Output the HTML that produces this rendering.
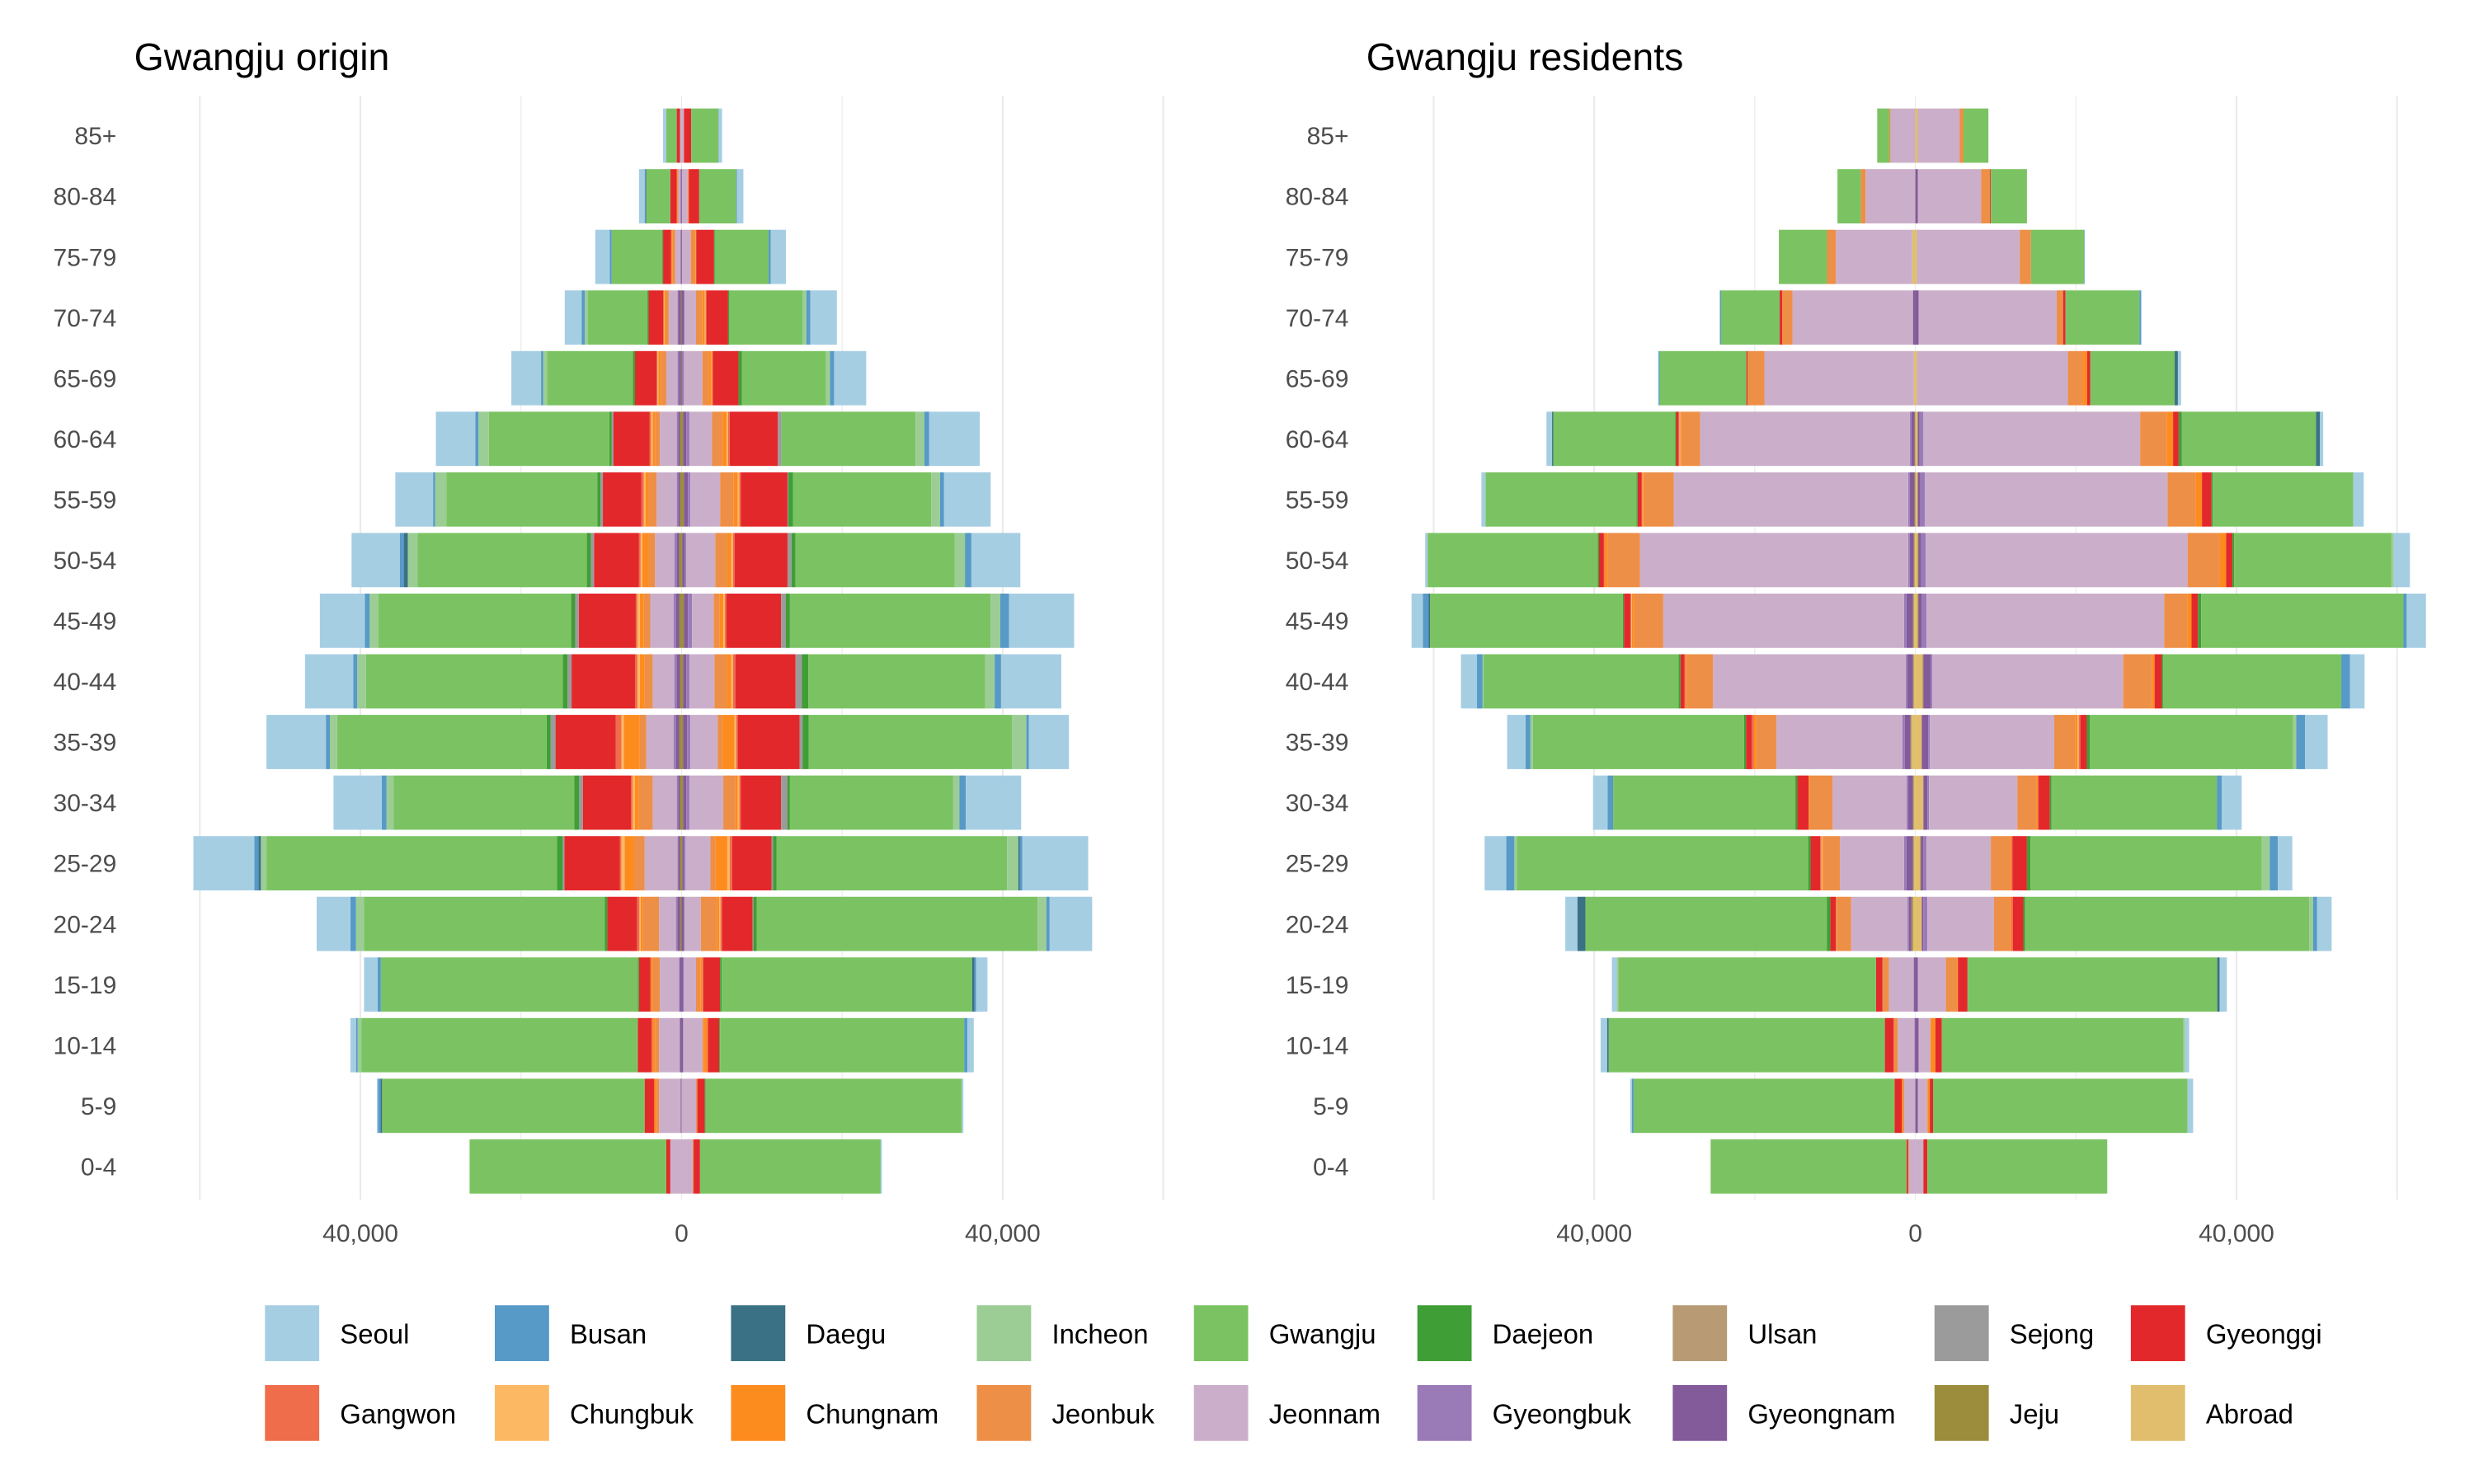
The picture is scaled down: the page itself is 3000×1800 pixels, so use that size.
<!DOCTYPE html>
<html><head><meta charset="utf-8"><style>
html,body{margin:0;padding:0;background:#fff;}
svg{display:block;font-family:"Liberation Sans",Arial,sans-serif;}
</style></head><body>
<svg id="chart" width="3000" height="1800" viewBox="0 0 1550 930" xmlns="http://www.w3.org/2000/svg">
<rect x="0" y="0" width="1550" height="930" fill="#fff"/>
<text x="84" y="44" font-size="24" fill="#000">Gwangju origin</text>
<text x="856" y="44" font-size="24" fill="#000">Gwangju residents</text>
<g id="panels"></g>
<g id="legend"></g>
</svg>
<script>
const ages = ["0-4","5-9","10-14","15-19","20-24","25-29","30-34","35-39","40-44","45-49","50-54","55-59","60-64","65-69","70-74","75-79","80-84","85+"];
const regions = ["Seoul","Busan","Daegu","Incheon","Gwangju","Daejeon","Ulsan","Sejong","Gyeonggi","Gangwon","Chungbuk","Chungnam","Jeonbuk","Jeonnam","Gyeongbuk","Gyeongnam","Jeju","Abroad"];
const colors = ["#a6cee3","#5799c7","#3a7185","#9bcd95","#7bc362","#3f9e36","#b89a74","#9b9b9b","#e3282b","#ef6d4b","#fdb863","#fd8c1f","#ee8f47","#cbafca","#9a7bb8","#835a9a","#9b8d3c","#e0be6d"];
const xTickValues = [-40000, 0, 40000];
const xTickLabels = ["40,000","0","40,000"];
const gridValues = [-60000,-40000,-20000,0,20000,40000,60000];

// Values in thousands, age order 0-4 ... 85+
// Gwangju origin, left side
const oL_Seoul=[0,0.15,0.7,1.7,4.2,7.6,6.0,7.4,6.0,5.6,6.0,4.7,4.9,3.7,2.1,1.8,0.7,0.4];
const oL_Busan=[0,0.3,0.2,0.4,0.7,0.5,0.6,0.5,0.5,0.6,0.5,0.25,0.4,0.25,0.4,0.25,0.1,0];
const oL_Daegu=[0,0.2,0,0,0,0.3,0,0,0,0,0.5,0,0,0,0,0,0.1,0];
const oL_Incheon=[0,0,0.5,0,1.0,0.7,0.9,0.9,1.1,1.1,1.2,1.4,1.3,0.5,0.4,0,0,0];
const oL_Gwangju=[24.5,32.7,34.4,32.0,30.0,36.2,22.5,26.1,24.5,24.0,21.1,18.8,15.0,10.7,7.4,6.3,3.0,1.3];
const oL_Daejeon=[0,0,0,0.15,0.3,0.7,0.6,0.5,0.6,0.5,0.5,0.4,0.3,0.25,0.15,0.1,0,0];
const oL_Sejong=[0,0,0,0,0,0.2,0.45,0.6,0.5,0.45,0.4,0.3,0.2,0,0,0,0,0];
const oL_Gyeonggi=[0.5,1.2,1.7,1.4,3.7,6.9,6.0,7.5,7.9,7.1,5.6,4.8,4.5,2.7,1.8,1.0,0.8,0.4];
const oL_Gangwon=[0,0,0.15,0.1,0.3,0.2,0.2,0.7,0.3,0.2,0.2,0.3,0.2,0.1,0.1,0,0,0];
const oL_Chungbuk=[0,0,0,0,0.15,0.4,0.3,0.3,0.3,0.3,0.2,0.2,0.2,0.1,0.1,0,0,0];
const oL_Chungnam=[0,0.3,0.3,0.2,0.3,1.2,0.5,2.0,0.6,0.5,0.8,0.4,0.3,0.3,0.2,0.2,0.1,0];
const oL_Jeonbuk=[0,0.3,0.5,0.9,2.0,1.3,1.7,0.8,1.0,0.8,0.8,1.0,0.6,0.7,0.3,0.3,0.1,0];
const oL_Jeonnam=[1.4,2.7,2.6,2.4,2.1,4.1,3.0,3.4,2.7,2.9,2.4,2.5,2.1,1.4,1.1,0.7,0.3,0.2];
const oL_Gyeongbuk=[0,0,0,0.1,0.2,0.1,0.2,0.3,0.3,0.3,0.3,0.2,0.2,0.2,0.1,0,0,0];
const oL_Gyeongnam=[0,0.1,0.2,0.2,0.3,0.2,0.2,0.4,0.4,0.4,0.3,0.2,0.2,0.2,0.3,0.1,0.1,0];
const oL_Jeju=[0,0,0,0,0.2,0.2,0.2,0.3,0.2,0.3,0.3,0.2,0.2,0.1,0.1,0,0,0];
// Gwangju origin, right side
const oR_Seoul=[0.15,0.2,0.8,1.4,5.3,8.2,6.9,5.0,7.5,8.1,6.1,5.8,6.3,4.0,3.3,1.9,0.8,0.4];
const oR_Busan=[0,0,0.4,0.2,0.4,0.3,0.8,0.3,0.8,1.1,0.8,0.5,0.6,0.5,0.5,0.25,0.1,0.05];
const oR_Daegu=[0,0,0,0.3,0,0.2,0,0,0,0,0,0,0,0,0,0,0,0];
const oR_Incheon=[0,0,0,0,1.1,1.4,0.8,1.8,1.2,1.2,1.3,1.1,1.1,0.5,0.5,0,0,0];
const oR_Gwangju=[22.5,31.9,30.4,31.2,35.0,28.7,20.3,25.3,22.0,25.0,19.8,17.2,16.7,10.5,9.1,6.7,4.6,3.4];
const oR_Daejeon=[0,0.1,0.1,0.2,0.4,0.45,0.3,0.75,0.8,0.5,0.5,0.6,0,0.4,0.15,0.1,0,0];
const oR_Sejong=[0,0,0,0,0.1,0.2,0.8,0.4,0.8,0.6,0.5,0.1,0.45,0,0,0,0,0];
const oR_Gyeonggi=[0.8,0.9,1.4,2.1,3.8,4.9,5.0,7.7,7.5,6.8,6.6,5.8,6.0,3.2,2.7,2.2,1.3,0.9];
const oR_Gangwon=[0,0.1,0.1,0.1,0.2,0.3,0.2,0.2,0.3,0.2,0.2,0.2,0.2,0.1,0.1,0.05,0,0];
const oR_Chungbuk=[0,0,0,0,0.15,0.3,0.2,0.2,0.2,0.2,0.2,0.2,0.2,0.1,0.1,0.05,0,0];
const oR_Chungnam=[0,0,0.4,0.2,0.3,1.5,0.3,1.5,0.5,0.5,0.5,0.5,0.5,0.3,0.3,0.1,0.05,0];
const oR_Jeonbuk=[0.1,0.1,0.2,0.6,2.0,0.6,1.5,0.6,1.6,0.7,1.5,1.7,1.3,0.8,0.8,0.5,0.1,0];
const oR_Jeonnam=[1.4,1.8,2.4,1.5,2.0,3.1,4.2,3.4,3.1,2.7,3.6,3.7,2.8,2.3,1.4,1.1,0.7,0.3];
const oR_Gyeongbuk=[0,0,0,0.1,0.1,0.2,0.4,0.4,0.4,0.5,0.2,0.3,0.4,0.2,0.1,0,0,0];
const oR_Gyeongnam=[0,0,0.2,0.2,0.3,0.2,0.4,0.5,0.4,0.5,0.3,0.5,0.4,0.1,0.3,0.05,0.05,0];
const oR_Jeju=[0,0,0,0,0,0.1,0.2,0.2,0.2,0.3,0.1,0.3,0.2,0,0,0,0,0];
// Gwangju residents, left side
const rL_Seoul=[0,0.2,0.8,0.6,1.5,2.7,1.8,2.3,2.0,1.4,0.3,0.5,0.7,0.1,0.1,0,0,0];
const rL_Busan=[0,0.2,0,0,0,1.0,0.7,0.6,0.7,0.7,0,0,0,0.1,0.1,0,0,0];
const rL_Daegu=[0,0,0.2,0,1.0,0,0,0,0,0.2,0,0,0.15,0,0,0,0,0];
const rL_Incheon=[0,0,0,0.2,0,0.3,0,0.3,0.1,0,0,0,0,0,0,0,0,0];
const rL_Gwangju=[24.4,32.5,34.4,32.1,30.1,36.3,22.7,26.3,24.3,24.0,21.2,18.8,15.2,10.8,7.3,6.0,2.9,1.5];
const rL_Daejeon=[0,0,0,0,0.4,0.3,0.25,0.25,0.25,0.15,0.15,0.15,0.1,0,0,0,0,0];
const rL_Gyeonggi=[0.2,0.9,1.1,0.8,0.7,1.2,1.4,0.7,0.5,0.8,0.6,0.5,0.3,0.15,0.3,0,0,0];
const rL_Gangwon=[0,0,0,0,0,0.15,0,0.3,0.1,0.1,0.1,0.1,0.1,0,0,0,0,0];
const rL_Chungbuk=[0,0,0,0,0,0.1,0,0,0,0.1,0,0.1,0.1,0,0,0,0,0];
const rL_Chungnam=[0,0.1,0,0,0.1,0.1,0.1,0.3,0.15,0.2,0.4,0.1,0.1,0,0,0,0,0];
const rL_Jeonbuk=[0.1,0.2,0.5,0.8,1.8,2.1,2.9,2.5,3.3,3.7,4.0,3.7,2.4,2.1,1.3,1.1,0.6,0.15];
const rL_Jeonnam=[0.8,1.4,2.1,3.1,7.0,8.0,9.2,15.7,24.0,30.0,33.4,29.2,26.1,18.6,15.0,9.5,6.2,3.1];
const rL_Gyeongbuk=[0,0,0,0,0.2,0.3,0.2,0.3,0.2,0.3,0.2,0.2,0.2,0,0,0,0,0];
const rL_Gyeongnam=[0,0,0.1,0.2,0.3,0.8,0.6,0.7,0.7,0.8,0.5,0.6,0.4,0,0.3,0,0,0];
const rL_Jeju=[0,0,0,0,0.2,0.1,0.1,0.1,0.1,0.1,0.1,0.1,0.1,0,0,0,0,0];
const rL_Abroad=[0,0,0,0,0.3,0.2,0.2,0.5,0.2,0.2,0.1,0,0,0.2,0,0.4,0,0];
// Gwangju residents, right side
const rR_Seoul=[0,0.7,0.5,0.9,1.8,1.8,2.5,2.8,1.8,2.4,2.0,1.3,0.4,0.4,0.1,0.05,0,0];
const rR_Busan=[0,0,0,0,0.5,1.0,0.6,1.1,1.1,0.4,0,0,0,0,0.2,0.05,0,0];
const rR_Daegu=[0,0,0,0.3,0,0,0,0,0,0,0,0,0.5,0.4,0,0,0,0];
const rR_Incheon=[0,0,0.2,0,0.5,1.0,0,0.4,0,0,0.3,0,0,0,0,0,0,0];
const rR_Gwangju=[22.4,31.7,30.1,31.1,35.4,28.8,20.6,25.3,22.2,25.2,19.6,17.5,16.7,10.5,9.2,6.6,4.5,3.1];
const rR_Daejeon=[0,0,0,0,0.2,0.45,0.2,0.4,0.15,0.4,0.2,0.15,0.4,0,0,0,0,0];
const rR_Gyeonggi=[0.5,0.4,0.8,1.2,1.3,1.8,1.4,0.8,0.9,0.8,0.8,1.2,0.7,0.4,0.3,0,0.1,0];
const rR_Gangwon=[0,0,0,0,0.2,0.15,0.1,0.2,0,0,0,0,0,0,0,0,0,0];
const rR_Chungbuk=[0,0,0,0,0,0,0,0.15,0,0,0,0,0,0,0,0,0,0];
const rR_Chungnam=[0,0.3,0.6,0.1,0.15,0.15,0.15,0.3,0.3,0.5,0.8,0.8,0.8,0.5,0,0,0,0];
const rR_Jeonbuk=[0,0,0,1.4,2.0,2.4,2.4,2.6,3.6,2.9,4.0,3.5,3.3,1.9,0.8,1.4,1.1,0.5];
const rR_Jeonnam=[1.0,1.2,1.5,3.5,8.3,8.0,11.0,15.5,23.8,29.6,32.6,30.2,27.0,18.8,17.2,12.8,7.9,5.2];
const rR_Gyeongbuk=[0,0,0,0,0.5,0.4,0.2,0.2,0.2,0.6,0.6,0.6,0.5,0,0,0,0,0];
const rR_Gyeongnam=[0,0.3,0.4,0.3,0.2,0.3,0.5,0.8,0.9,0.4,0.3,0.3,0.2,0,0.4,0,0.3,0];
const rR_Jeju=[0,0,0,0,0,0.1,0,0,0.1,0.1,0.1,0,0,0,0,0,0,0];
const rR_Abroad=[0,0,0,0,0.8,0.6,1.0,0.8,0.9,0.3,0.3,0.3,0.3,0.2,0,0.2,0,0.3];

const Z=[0,0,0,0,0,0,0,0,0,0,0,0,0,0,0,0,0,0];
const sideOL={Seoul:oL_Seoul,Busan:oL_Busan,Daegu:oL_Daegu,Incheon:oL_Incheon,Gwangju:oL_Gwangju,Daejeon:oL_Daejeon,Sejong:oL_Sejong,Gyeonggi:oL_Gyeonggi,Gangwon:oL_Gangwon,Chungbuk:oL_Chungbuk,Chungnam:oL_Chungnam,Jeonbuk:oL_Jeonbuk,Jeonnam:oL_Jeonnam,Gyeongbuk:oL_Gyeongbuk,Gyeongnam:oL_Gyeongnam,Jeju:oL_Jeju};
const sideOR={Seoul:oR_Seoul,Busan:oR_Busan,Daegu:oR_Daegu,Incheon:oR_Incheon,Gwangju:oR_Gwangju,Daejeon:oR_Daejeon,Sejong:oR_Sejong,Gyeonggi:oR_Gyeonggi,Gangwon:oR_Gangwon,Chungbuk:oR_Chungbuk,Chungnam:oR_Chungnam,Jeonbuk:oR_Jeonbuk,Jeonnam:oR_Jeonnam,Gyeongbuk:oR_Gyeongbuk,Gyeongnam:oR_Gyeongnam,Jeju:oR_Jeju};
const sideRL={Seoul:rL_Seoul,Busan:rL_Busan,Daegu:rL_Daegu,Incheon:rL_Incheon,Gwangju:rL_Gwangju,Daejeon:rL_Daejeon,Gyeonggi:rL_Gyeonggi,Gangwon:rL_Gangwon,Chungbuk:rL_Chungbuk,Chungnam:rL_Chungnam,Jeonbuk:rL_Jeonbuk,Jeonnam:rL_Jeonnam,Gyeongbuk:rL_Gyeongbuk,Gyeongnam:rL_Gyeongnam,Jeju:rL_Jeju,Abroad:rL_Abroad};
const sideRR={Seoul:rR_Seoul,Busan:rR_Busan,Daegu:rR_Daegu,Incheon:rR_Incheon,Gwangju:rR_Gwangju,Daejeon:rR_Daejeon,Gyeonggi:rR_Gyeonggi,Gangwon:rR_Gangwon,Chungbuk:rR_Chungbuk,Chungnam:rR_Chungnam,Jeonbuk:rR_Jeonbuk,Jeonnam:rR_Jeonnam,Gyeongbuk:rR_Gyeongbuk,Gyeongnam:rR_Gyeongnam,Jeju:rR_Jeju,Abroad:rR_Abroad};

const NS="http://www.w3.org/2000/svg";
const PXK=5.03/1000; // px per person
const yTop=731, yStep=38, barH=34;
function yScale(i){return yTop - yStep*i;}
function mk(tag,attrs,parent){const e=document.createElementNS(NS,tag);for(const k in attrs)e.setAttribute(k,attrs[k]);parent.appendChild(e);return e;}

const panelsG=document.getElementById('panels');
const panels=[
 {key:'origin',x0:427,labelX:73,left:sideOL,right:sideOR},
 {key:'residents',x0:1200,labelX:845,left:sideRL,right:sideRR}
];
panels.forEach(p=>{
  const xScale=v=>p.x0+v*PXK;
  const g=mk('g',{},panelsG);
  
  
  gridValues.forEach(v=>{
    const l=mk('line',{x1:xScale(v),x2:xScale(v),y1:60,y2:752,stroke:'#ebebeb','stroke-width':(Math.abs(v)===20000||v===0)?0.6:1.1},g);
    
    
  });
  xTickValues.forEach((v,i)=>{
    const t=mk('text',{x:xScale(v),y:778,'font-size':15.5,fill:'#4d4d4d','text-anchor':'middle'},g);
    t.textContent=xTickLabels[i];
    
    
  });
  ages.forEach((a,i)=>{
    const t=mk('text',{x:p.labelX,y:yScale(i)+5.5,'font-size':15.5,fill:'#4d4d4d','text-anchor':'end'},g);
    t.textContent=a;
    
    
  });
  [['left',-1],['right',1]].forEach(([side,sign])=>{
    const data=p[side];
    ages.forEach((a,i)=>{
      let cum=0;
      for(let r=regions.length-1;r>=0;r--){
        const arr=data[regions[r]]||Z;
        const v=arr[i]*1000;
        if(v<=0)continue;
        const a0=xScale(sign*cum), a1=xScale(sign*(cum+v));
        cum+=v;
        const rc=mk('rect',{x:Math.min(a0,a1),y:yScale(i)-barH/2,width:Math.abs(a1-a0),height:barH,fill:colors[r]},g);
        
        
      }
    });
  });
});

const legendG=document.getElementById('legend');
const colX=[166,310,458,612,748,888,1048,1212,1335];
regions.forEach((r,k)=>{
  const row=Math.floor(k/9), col=k%9;
  const g=mk('g',{},legendG);
  
  
  const y=818+row*50;
  const s=mk('rect',{x:colX[col],y:y,width:34,height:35,fill:colors[k]},g);
  
  
  const t=mk('text',{x:colX[col]+47,y:y+24,'font-size':17,fill:'#000'},g);
  t.textContent=r;
  
  
});
</script>
</body></html>
